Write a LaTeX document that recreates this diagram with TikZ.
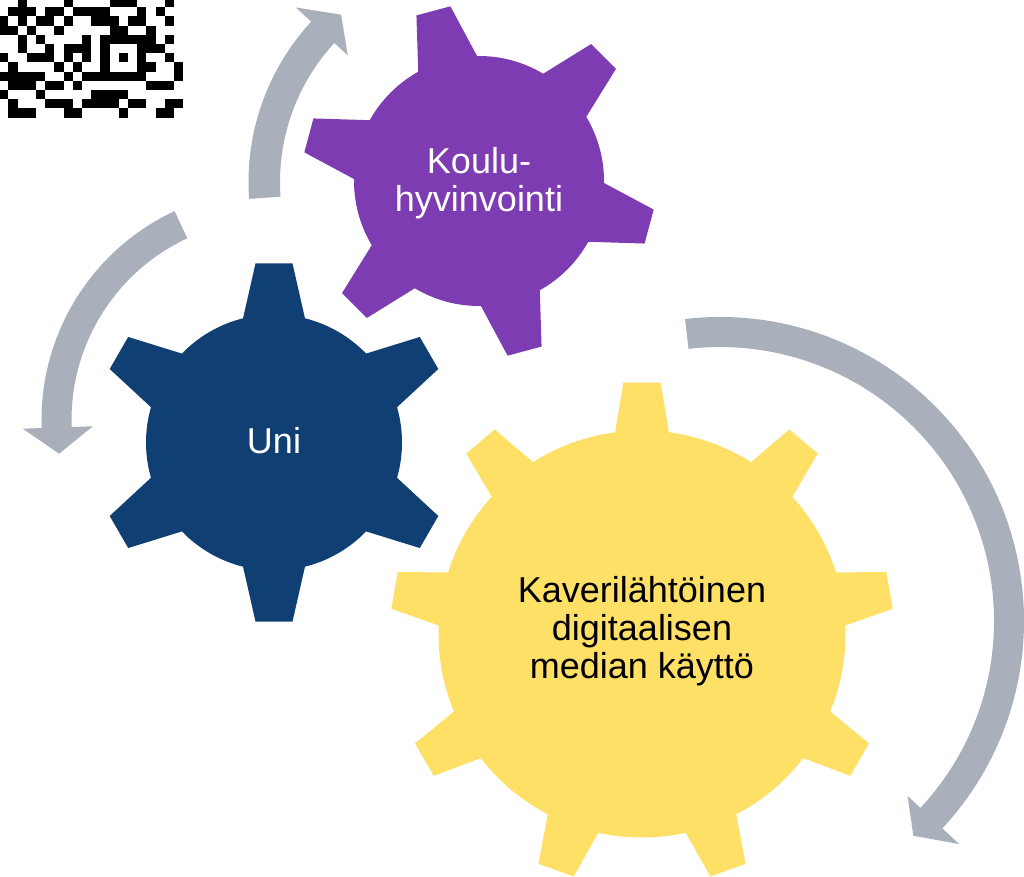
\documentclass[tikz,border=0pt]{standalone}
\usepackage{fontspec}
\setmainfont{Liberation Sans}

\definecolor{unicol}{RGB}{16,64,115}
\definecolor{koulucol}{RGB}{126,60,178}
\definecolor{kavericol}{RGB}{255,224,102}
\definecolor{arrowcol}{RGB}{169,175,187}

\tikzset{
  cogtext/.style={align=center, font=\fontsize{36}{38}\selectfont},
}

% cog: colour, centre, teeth, first tooth angle, body r, tip r, base half angle, tip half angle
\newcommand{\cog}[8]{%
  \pgfmathsetmacro{\cogstep}{360/#3}
  \pgfmathtruncatemacro{\coglast}{#3-1}
  \fill[#1, shift={#2}] ({#4-#7}:#5) \foreach \k in {0,...,\coglast} {
      -- ({#4+\k*\cogstep-#8}:#6) -- ({#4+\k*\cogstep+#8}:#6) -- ({#4+\k*\cogstep+#7}:#5)
      arc[start angle={#4+\k*\cogstep+#7}, end angle={#4+(\k+1)*\cogstep-#7}, radius=#5]
    } -- cycle;}

% bent arrow: centre, inner r, outer r, start angle, head angle, tip angle, barb radii
\newcommand{\bendarrow}[8]{%
  \fill[arrowcol, shift={#1}] (#4:#3) arc[start angle=#4, end angle=#5, radius=#3]
    -- (#5:#8) -- (#6:{(#2+#3)/2}) -- (#5:#7) -- (#5:#2)
    arc[start angle=#5, end angle=#4, radius=#2] -- cycle;}

\begin{document}
\begin{tikzpicture}[x=1pt,y=1pt]
  \useasboundingbox (0,0) rectangle (1024,876);
  \fill[white] (0,0) rectangle (1024,876);

  % code in the corner
  \foreach \row/\cols in {0/{2,7,12,13,14,18}, 1/{1,2,3,5,6,8,9,10,11,15,17},
      2/{0,2,4,5,7,10,11,12,14,15,18}, 3/{0,1,3,6,12,13,16},
      4/{2,4,9,11,12,13,14,15,16,18}, 5/{2,5,7,8,9,11,15,16,17},
      6/{0,3,4,5,7,9,11,13,15,18}, 7/{1,6,8,11,15,16,19},
      8/{0,1,2,3,4,7,9,10,11,12,13,14,15,19}, 9/{1,2,3,5,6,8,16,17,18},
      10/{0,4,10,11,12,13}, 11/{1,5,6,7,9,10,11,12,14,15,18,19},
      12/{1,2,3,7,8,13,17,18}}
    {\foreach \col in \cols {\fill[black] (\col*9.2-0.9, 868.7-\row*9.2) rectangle ++(9.3,9.3);}}

  % arrows
  \bendarrow{(485,694)}{205}{236.5}{184.1}{137.3}{130.7}{186.7}{257.3}
  \bendarrow{(272,456)}{200.5}{230.5}{115}{182}{189}{179.3}{249.3}
  \bendarrow{(720,255)}{274}{304}{96.6}{-43}{-48}{256.4}{327}

  % cogs
  \cog{unicol}{(274,433.5)}{6}{30}{128}{180}{14}{5.9}
  \cog{koulucol}{(479,695)}{6}{45}{125}{177}{14.1}{5.7}
  \cog{kavericol}{(642,242)}{9}{10}{203.5}{252}{7.6}{4.25}

  \node[cogtext, text=white] (uni) at (274,435) {Uni};
  \node[cogtext, text=white] (koulu) at (479,693) {Koulu-\\hyvinvointi};
  \node[cogtext] (kaveri) at (642,245) {Kaverilähtöinen\\digitaalisen\\median käyttö};
\end{tikzpicture}
\end{document}
